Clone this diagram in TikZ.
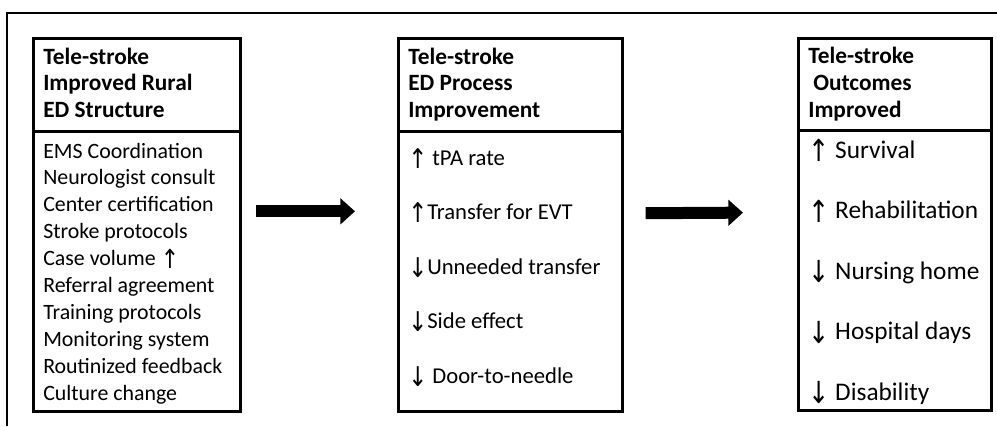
\documentclass[tikz,border=0pt]{standalone}
\usepackage{fontspec}
\setmainfont{Carlito}
\newfontfamily\arrowfont{DejaVu Sans}
\usepackage{graphicx}
\usepackage{tikz}
\usetikzlibrary{positioning, arrows.meta}
\newcommand{\upar}{\raisebox{-0.15em}{\scalebox{1}[1.2]{\arrowfont ↑}}}
\newcommand{\downar}{\raisebox{-0.15em}{\scalebox{1}[1.2]{\arrowfont ↓}}}

\begin{document}
\begin{tikzpicture}[
    x=0.75pt, y=-0.75pt,
    box/.style={draw, line width=2pt, anchor=north west, inner sep=0pt},
    head/.style={font=\fontsize{17.5}{20}\selectfont\bfseries, anchor=base west, inner sep=0pt},
    item/.style={anchor=base west, inner sep=0pt},
    bigarrow/.style={-{Triangle[length=11pt, width=19pt]}, line width=9pt},
    frame/.style={line width=1.5pt},
]
\useasboundingbox (0,0) rectangle (997,426);

% --- Outer frame (top and left only) ---
\draw[frame] (7,426) -- (7,13) -- (997,13);

% --- Left: ED structure ---
\node[box, minimum width=155.25pt, minimum height=69.75pt] (structhead) at (32,37) {};
\node[box, minimum width=155.25pt, minimum height=210pt] (struct) at (32,130) {};
\foreach \txt [count=\i] in {Tele-stroke, Improved Rural, ED Structure}
  \node[head] (sh\i) at (43,{64+26.5*(\i-1)}) {\txt};
\foreach \txt [count=\i] in {EMS Coordination, Neurologist consult, Center certification,
    Stroke protocols, Case volume \upar, Referral agreement, Training protocols,
    Monitoring system, Routinized feedback, Culture change}
  \node[item, font=\fontsize{16.4}{20}\selectfont] (s\i) at (43,{158+26.9*(\i-1)}) {\txt};

% --- Middle: ED process ---
\node[box, minimum width=168pt, minimum height=69.75pt] (prochead) at (397,37) {};
\node[box, minimum width=168pt, minimum height=210pt] (proc) at (397,130) {};
\foreach \txt [count=\i] in {Tele-stroke, ED Process, Improvement}
  \node[head] (ph\i) at (408,{64+26.5*(\i-1)}) {\txt};
\foreach \txt [count=\i] in {\upar\ tPA rate, \upar Transfer for EVT, \downar Unneeded transfer,
    \downar Side effect, \downar\ Door-to-needle}
  \node[item, font=\fontsize{17}{20}\selectfont] (p\i) at (408,{165+54.5*(\i-1)}) {\txt};

% --- Right: outcomes ---
\node[box, minimum width=144.75pt, minimum height=69pt] (outchead) at (797,37) {};
\node[box, minimum width=144.75pt, minimum height=210pt] (outc) at (797,129) {};
\node[head] (oh1) at (808,63) {Tele-stroke};
\node[head] (oh2) at (813,90) {Outcomes};
\node[head] (oh3) at (808,117) {Improved};
\foreach \txt [count=\i] in {Survival, Rehabilitation, Nursing home, Hospital days, Disability}
  \node[item, font=\fontsize{19}{22}\selectfont] (o\i) at (808,{158+60.5*(\i-1)})
    {\ifnum\i<3 \upar\else\downar\fi\ \txt};

% --- Arrows between columns ---
\draw[bigarrow, shorten <=10.5pt, shorten >=31.5pt] ([yshift=45pt]struct.east) -- ([yshift=45pt]proc.west);
\draw[bigarrow, shorten <=16.5pt, shorten >=40.5pt] ([yshift=43.5pt]proc.east) -- ([yshift=43.5pt]outc.west);

\end{tikzpicture}
\end{document}
